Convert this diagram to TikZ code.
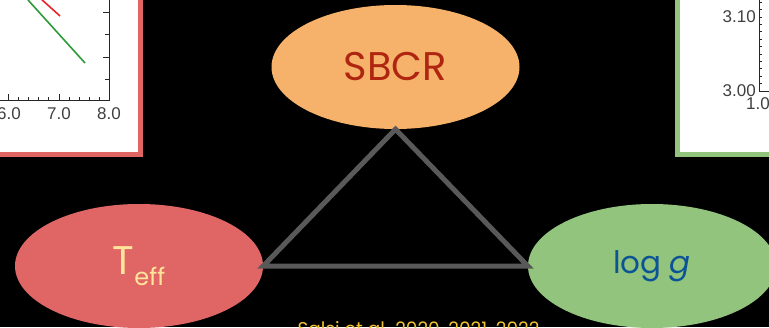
\documentclass[tikz,border=0pt]{standalone}
\usepackage{fontspec}
\setmainfont{Poppins}
\newfontfamily\plotfont{Liberation Sans}
\usetikzlibrary{shapes.geometric}
\definecolor{sbcrfill}{HTML}{F6B26B}
\definecolor{sbcrtext}{HTML}{B0250F}
\definecolor{tefffill}{HTML}{E06666}
\definecolor{tefftext}{HTML}{FFE599}
\definecolor{loggfill}{HTML}{93C47D}
\definecolor{loggtext}{HTML}{0B5394}
\definecolor{edgegray}{HTML}{595959}
\definecolor{refyellow}{HTML}{F1C232}
\definecolor{plotred}{HTML}{E8242A}
\definecolor{plotgreen}{HTML}{2E9A3A}
\tikzset{
  param/.style={ellipse, draw=none, inner sep=0pt, minimum width=248pt, minimum height=124pt},
  edge/.style={draw=edgegray, line width=5pt, line join=miter},
  panel/.style={fill=white, line width=5pt},
  axis/.style={draw=black!85, line width=1pt},
  ticklab/.style={font=\plotfont\fontsize{17}{17}\selectfont, text=black!75, inner sep=0pt}
}
\begin{document}
\begin{tikzpicture}[x=1pt,y=-1pt]
\clip (0,0) rectangle (769,327);
\fill[black] (0,0) rectangle (769,327);
% left panel
\draw[panel, draw=tefffill] (-10,-10) rectangle (140.5,154.5);
\draw[axis] (-5,100) -- (109,100) -- (109,-5);
\foreach \x in {8,59,109} \draw[axis] (\x,100) -- (\x,94);
\foreach \x in {18.2,28.4,38.6,48.8,69.2,79.4,89.6,99.8} \draw[axis] (\x,100) -- (\x,97);
\foreach \y in {12,57} \draw[axis] (109,\y) -- (103,\y);
\foreach \y in {34,79} \draw[axis] (109,\y) -- (105,\y);
\draw[plotgreen, line width=1.6pt] (28,0) -- (85,63);
\draw[plotred, line width=1.6pt] (40,-2) -- (60,16);
\node[ticklab] (l6) at (9,114) {6.0};
\node[ticklab] (l7) at (59,114) {7.0};
\node[ticklab] (l8) at (109,114) {8.0};
% right panel
\draw[panel, draw=loggfill] (677.5,-10) rectangle (780,154.5);
\draw[axis] (759,-5) -- (759,91) -- (775,91);
\foreach \i in {0,...,13} \draw[axis] (759,91-7.4*\i) -- (762,91-7.4*\i);
\node[ticklab, anchor=east] (r310) at (756,17) {3.10};
\node[ticklab, anchor=east] (r300) at (756,91) {3.00};
\node[ticklab] (r10) at (758,104) {1.0};
% parameter ellipses
\node[param, fill=sbcrfill, text=sbcrtext, font=\fontsize{40}{40}\selectfont] (sbcr) at (395.5,67) {SBCR};
\node[param, fill=tefffill, text=tefftext] (teff) at (139,266) {\fontsize{40}{40}\selectfont T\raisebox{-11pt}{\fontsize{24}{24}\selectfont eff}};
\node[param, fill=loggfill, text=loggtext, font=\fontsize{31}{31}\selectfont] (logg) at (652,266) {log \textit{g}};
% triangle
\draw[edge] (sbcr.south) -- (logg.west) -- (teff.east) -- cycle;
% reference
\node[text=refyellow, font=\fontsize{18.5}{18.5}\selectfont, anchor=north, inner sep=0pt] (ref) at (418.5,321) {Salsi et al. 2020, 2021, 2022};
\end{tikzpicture}
\end{document}
